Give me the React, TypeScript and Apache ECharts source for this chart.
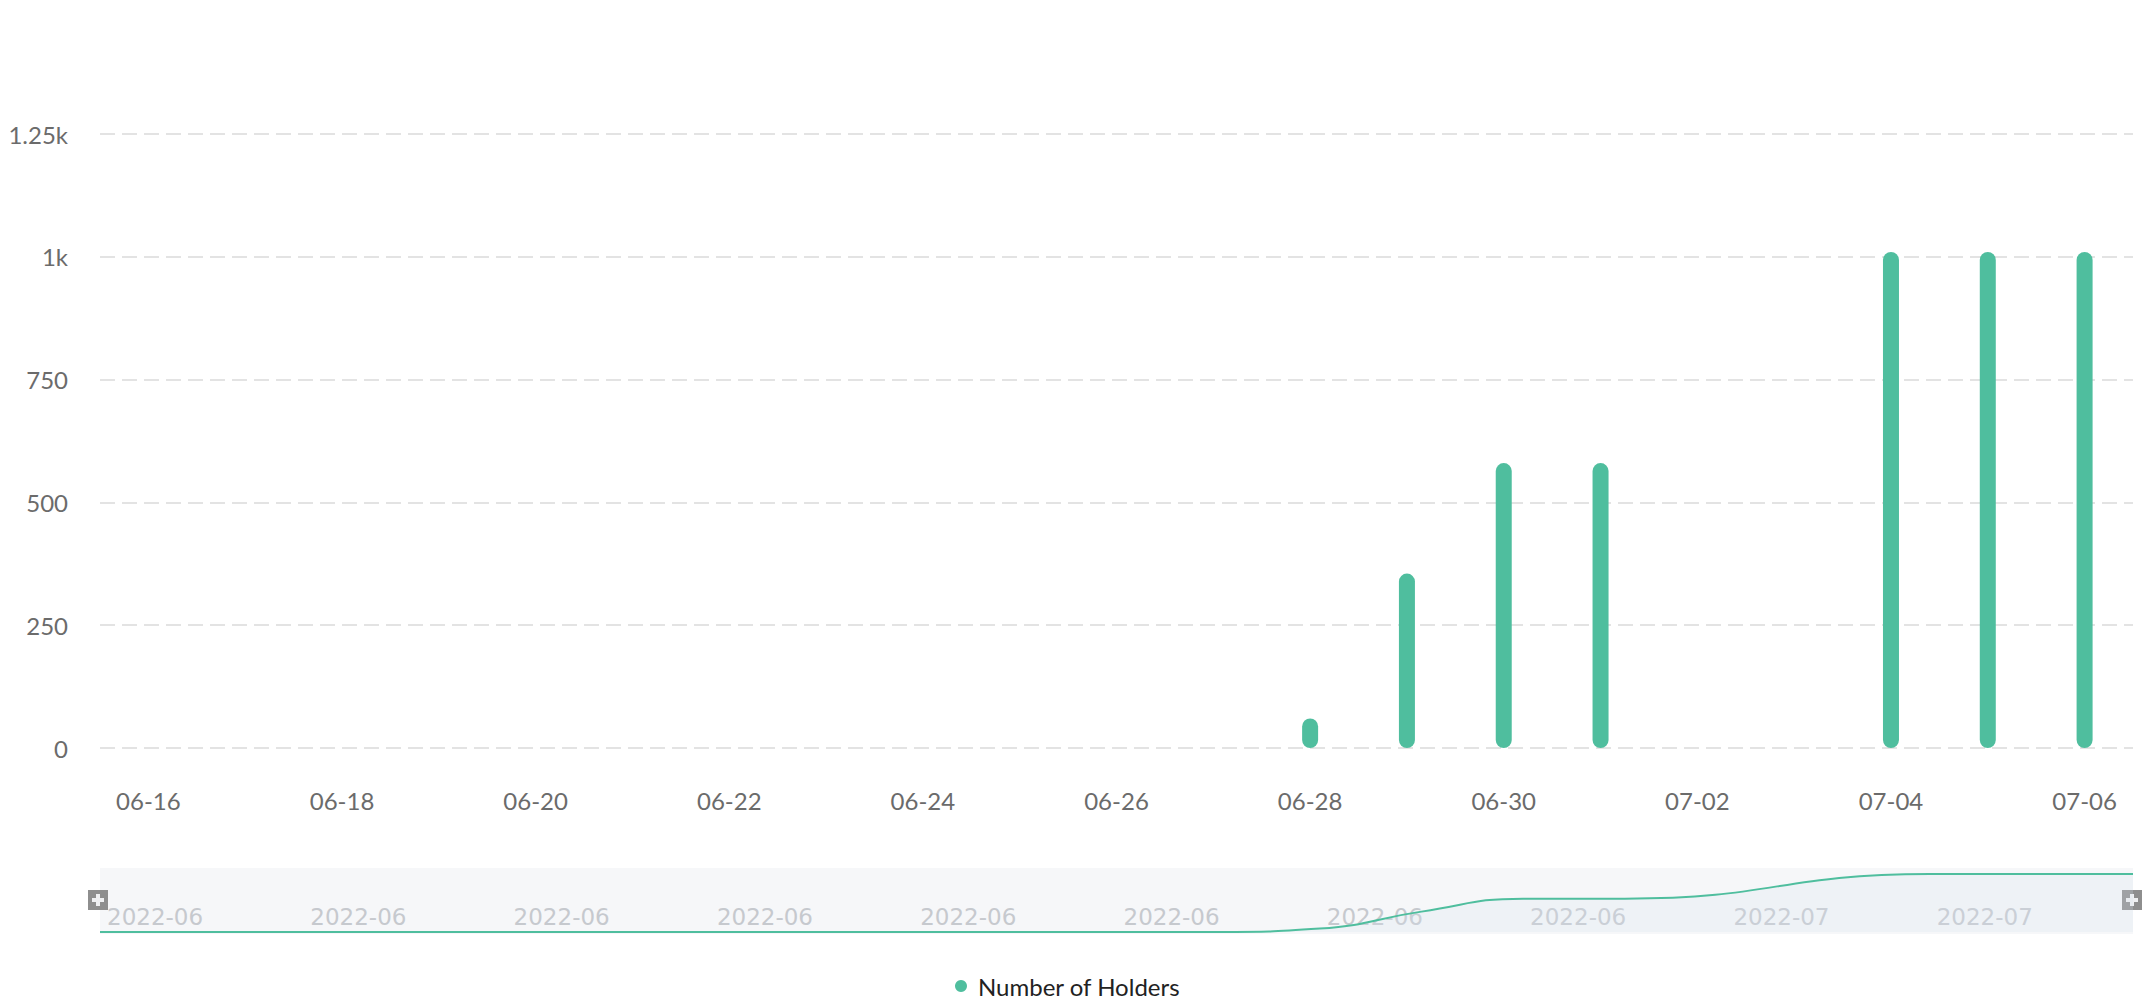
import { useEffect, useRef } from "react";
import * as echarts from "echarts";

const dates = [
  "2022-06-16", "2022-06-17", "2022-06-18", "2022-06-19", "2022-06-20", "2022-06-21", "2022-06-22",
  "2022-06-23", "2022-06-24", "2022-06-25", "2022-06-26", "2022-06-27", "2022-06-28", "2022-06-29",
  "2022-06-30", "2022-07-01", "2022-07-02", "2022-07-03", "2022-07-04", "2022-07-05", "2022-07-06",
];
const holders: (number | null)[] = [
  0, 0, 0, 0, 0, 0, 0, 0, 0, 0, 0, 0, 60, 355, 580, 580, null, null, 1010, 1010, 1010,
];
const yTicks = [0, 250, 500, 750, 1000, 1250];

const GREEN = "#4fbe9e";
const HANDLE_GRAY = "#8e8e8e";
const PLUS = "#eeeff1";

const fmtValue = (v: number) => (v >= 1000 ? `${v / 1000}k` : `${v}`);

// grey square handle with a light plus, centred at (cx, cy)
const handle = (cx: number, cy: number) => ({
  type: "group",
  x: cx - 10,
  y: cy - 10,
  z: 20,
  children: [
    { type: "rect", shape: { x: 0, y: 0, width: 20, height: 20 }, style: { fill: HANDLE_GRAY } },
    { type: "rect", shape: { x: 4, y: 8, width: 12, height: 4 }, style: { fill: PLUS } },
    { type: "rect", shape: { x: 8, y: 4, width: 4, height: 12 }, style: { fill: PLUS } },
  ],
});

export default function App() {
  const chartRef = useRef<HTMLDivElement>(null);

  useEffect(() => {
    document.body.style.margin = "0";
    if (!chartRef.current) return;
    const chart = echarts.init(chartRef.current, undefined, { renderer: "svg" });

    const option = {
      animation: false,
      textStyle: { fontFamily: "Lato" },
      grid: [
        { left: 100, right: 11, top: 134, height: 614, outerBoundsMode: "none" },
        {
          left: 100,
          right: 11,
          top: 868,
          height: 66,
          show: true,
          backgroundColor: "#f6f7f9",
          borderWidth: 0,
          outerBoundsMode: "none",
        },
      ],
      legend: {
        left: 950,
        top: 969,
        icon: "circle",
        itemWidth: 24,
        itemHeight: 12,
        textStyle: { color: "#222", fontSize: 24, fontFamily: "Lato" },
        data: ["Number of Holders"],
      },
      xAxis: [
        {
          type: "category",
          data: dates,
          boundaryGap: true,
          axisLine: { show: false },
          axisTick: { show: false },
          axisLabel: {
            interval: 1,
            color: "#6b6b6b",
            fontSize: 24,
            margin: 40,
            formatter: (v: string) => v.slice(5),
          },
        },
        {
          type: "category",
          gridIndex: 1,
          data: dates,
          boundaryGap: false,
          axisLine: { show: false },
          axisTick: { show: false },
          axisLabel: {
            inside: true,
            interval: (i: number) => i % 2 === 0 && i < dates.length - 1,
            align: "left",
            margin: 6,
            padding: [0, 0, 0, 7],
            color: "#c6c9ce",
            fontSize: 23,
            fontFamily: "DejaVu Sans",
            formatter: (v: string) => v.slice(0, 7),
          },
        },
      ],
      yAxis: [
        {
          type: "value",
          min: 0,
          max: yTicks[yTicks.length - 1],
          interval: 250,
          axisLine: { show: false },
          axisTick: { show: false },
          axisLabel: {
            color: "#6b6b6b",
            fontSize: 24,
            margin: 32,
            formatter: fmtValue,
          },
          splitLine: {
            lineStyle: { color: "#e3e3e3", width: 2, type: [15, 7] },
          },
        },
        {
          type: "value",
          gridIndex: 1,
          min: -35,
          max: 1115,
          show: false,
          splitLine: { show: false },
        },
      ],
      graphic: [handle(98, 900), handle(2132, 900)],
      series: [
        {
          name: "Number of Holders",
          type: "bar",
          data: holders,
          barWidth: 16,
          itemStyle: { color: GREEN, borderRadius: 8 },
        },
        {
          name: "shadow",
          type: "line",
          xAxisIndex: 1,
          yAxisIndex: 1,
          data: holders,
          connectNulls: true,
          smooth: true,
          symbol: "none",
          silent: true,
          lineStyle: { color: GREEN, width: 2 },
          areaStyle: { color: "rgba(214,226,240,0.35)" },
        },
      ],
    };

    chart.setOption(option);

    const handleResize = () => chart.resize();
    window.addEventListener("resize", handleResize);
    return () => {
      window.removeEventListener("resize", handleResize);
      chart.dispose();
    };
  }, []);

  return <div ref={chartRef} style={{ width: "2144px", height: "1000px" }} />;
}
